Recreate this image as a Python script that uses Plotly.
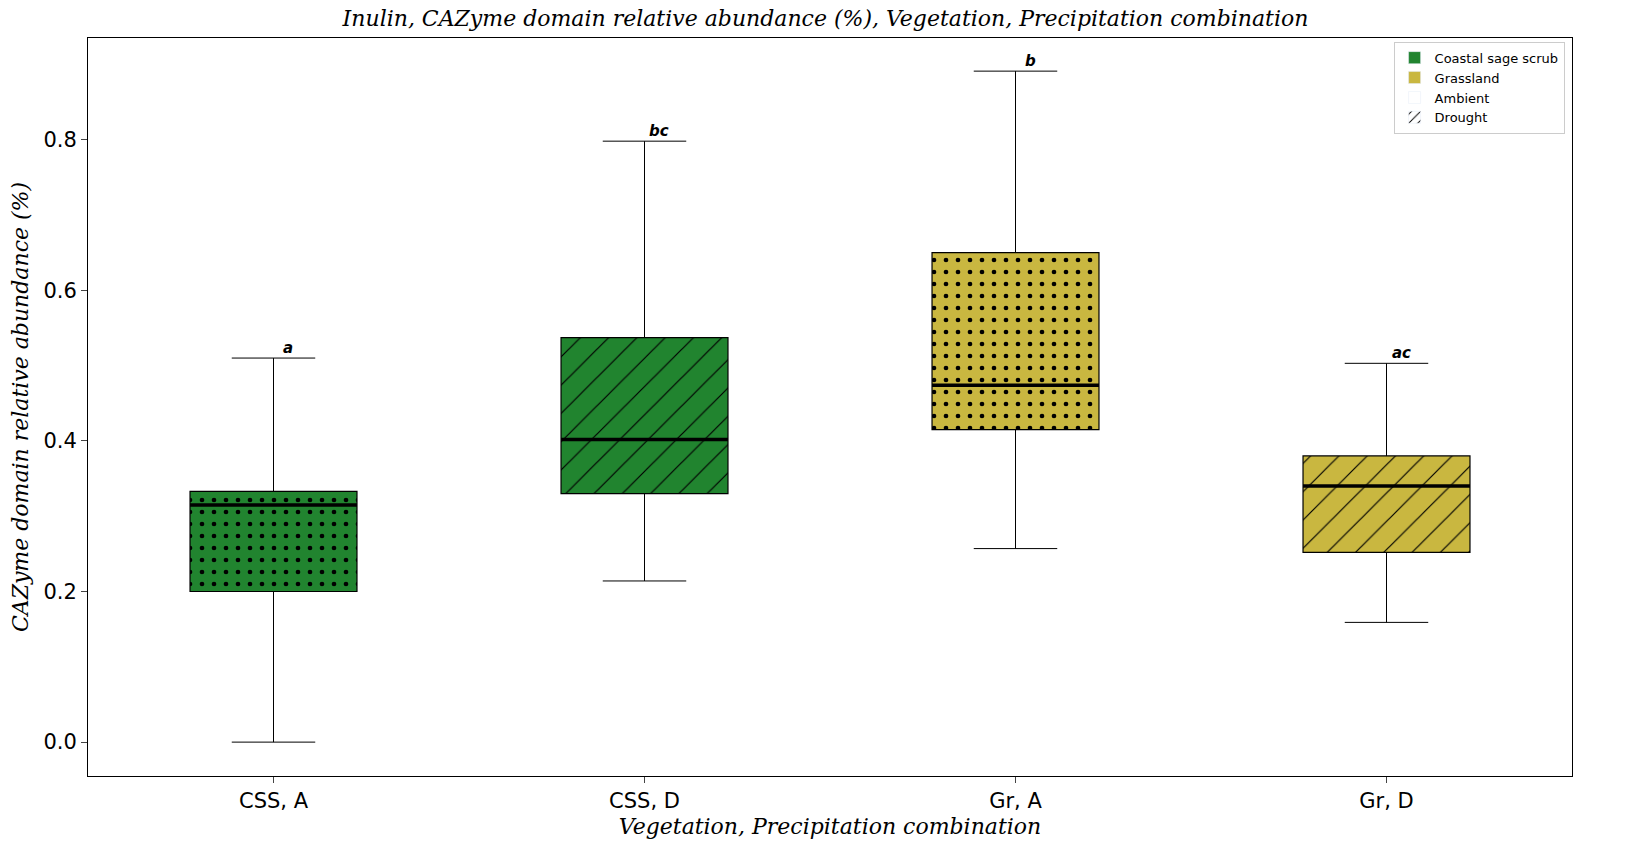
import plotly.graph_objects as go

groups = ["CSS, A", "CSS, D", "Gr, A", "Gr, D"]
lower = [0.0, 0.214, 0.257, 0.159]
q1 = [0.200, 0.330, 0.415, 0.252]
median = [0.315, 0.402, 0.474, 0.340]
q3 = [0.333, 0.537, 0.650, 0.380]
upper = [0.510, 0.798, 0.891, 0.503]
letters = ["a", "bc", "b", "ac"]
vegetation = ["Coastal sage scrub", "Coastal sage scrub", "Grassland", "Grassland"]
precip = ["Ambient", "Drought", "Ambient", "Drought"]

veg_colors = {"Coastal sage scrub": "#21842f", "Grassland": "#c9b740"}
shapes_map = {"Ambient": ".", "Drought": "/"}
box_w = 0.45
cap_w = 0.225

fig = go.Figure()
xs = list(range(len(groups)))

for i in xs:
    amb = precip[i] == "Ambient"
    fig.add_trace(go.Bar(
        x=[i], y=[q3[i] - q1[i]], base=[q1[i]], width=box_w,
        marker=dict(color=veg_colors[vegetation[i]],
                    line=dict(color="black", width=1.2),
                    pattern=dict(shape=shapes_map[precip[i]], fgcolor="black", fgopacity=1,
                                 size=12 if amb else 20,
                                 solidity=0.12 if amb else 0.06)),
        showlegend=False, hoverinfo="skip"))
    # whiskers
    fig.add_trace(go.Scatter(x=[i, i, None, i, i], y=[lower[i], q1[i], None, q3[i], upper[i]],
                             mode="lines", line=dict(color="black", width=1), showlegend=False))
    # caps
    fig.add_trace(go.Scatter(x=[i - cap_w / 2, i + cap_w / 2, None, i - cap_w / 2, i + cap_w / 2],
                             y=[lower[i], lower[i], None, upper[i], upper[i]],
                             mode="lines", line=dict(color="black", width=1), showlegend=False))
    # median
    fig.add_trace(go.Scatter(x=[i - box_w / 2, i + box_w / 2], y=[median[i], median[i]],
                             mode="lines", line=dict(color="black", width=3.5), showlegend=False))
    fig.add_annotation(x=i + 0.04, y=upper[i], text="<b><i>" + letters[i] + "</i></b>",
                       showarrow=False, yanchor="bottom", yshift=-1,
                       font=dict(size=15, color="black", family="DejaVu Sans"))

# legend entries
for name, col in veg_colors.items():
    fig.add_trace(go.Bar(x=[None], y=[None], name=name, marker=dict(color=col)))
fig.add_trace(go.Bar(x=[None], y=[None], name="Ambient", marker=dict(color="white")))
fig.add_trace(go.Bar(x=[None], y=[None], name="Drought",
                     marker=dict(color="white", pattern=dict(shape="/", fgcolor="black",
                                                             fgopacity=1, size=8, solidity=0.15))))

fig.update_layout(
    width=1635, height=867, plot_bgcolor="white", paper_bgcolor="white",
    margin=dict(l=78, r=71, t=30, b=99),
    barmode="overlay",
    title=dict(text="<i>Inulin, CAZyme domain relative abundance (%), Vegetation, Precipitation combination</i>",
               x=0.5, xanchor="center", y=0.997, yanchor="top",
               font=dict(family="DejaVu Serif", size=22, color="black")),
    xaxis=dict(range=[-0.5, 3.5], tickvals=xs, ticktext=groups, showgrid=False, zeroline=False,
               showline=True, linecolor="black", mirror=True, ticks="outside", ticklen=6,
               tickfont=dict(family="DejaVu Sans", size=21, color="black"),
               title=dict(text="<i>Vegetation, Precipitation combination</i>", standoff=6,
                          font=dict(family="DejaVu Serif", size=22, color="black"))),
    yaxis=dict(range=[-0.045, 0.935], tickvals=[0, 0.2, 0.4, 0.6, 0.8], tickformat=".1f",
               showgrid=False, zeroline=False, showline=True, linecolor="black", mirror=True,
               ticks="outside", ticklen=6,
               tickfont=dict(family="DejaVu Sans", size=21, color="black"),
               title=dict(text="<i>CAZyme domain relative abundance (%)</i>", standoff=8,
                          font=dict(family="DejaVu Serif", size=22, color="black"))),
    legend=dict(x=0.995, y=0.995, xanchor="right", yanchor="top", bgcolor="white",
                bordercolor="#cccccc", borderwidth=1, tracegroupgap=0,
                font=dict(family="DejaVu Sans", size=13, color="black")),
)

fig.write_html("out.html")
